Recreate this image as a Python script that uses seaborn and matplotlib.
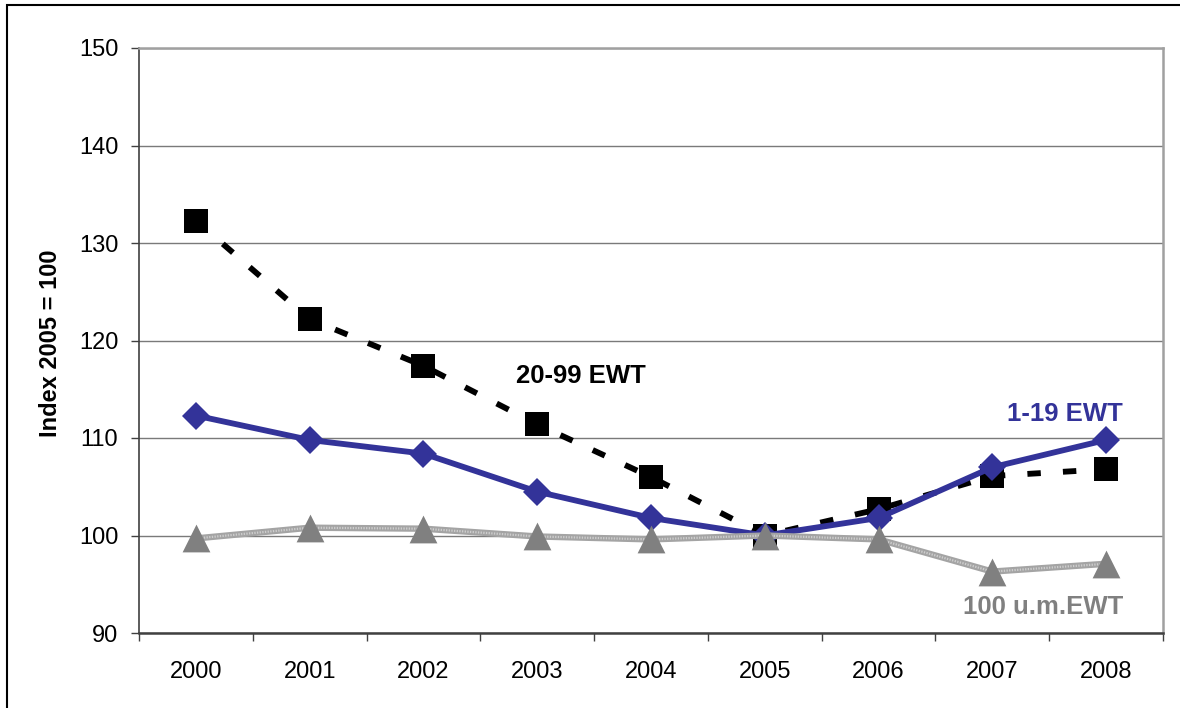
import matplotlib
matplotlib.use("Agg")
import matplotlib.pyplot as plt
from matplotlib.patches import Rectangle
import seaborn as sns
import pandas as pd

# Index values (2005 = 100) by establishment size class
years = ["2000", "2001", "2002", "2003", "2004", "2005", "2006", "2007", "2008"]
small_1_19 = [112.3, 109.8, 108.4, 104.5, 101.8, 100.0, 101.8, 107.0, 109.8]
medium_20_99 = [132.3, 122.2, 117.4, 111.4, 106.0, 100.0, 102.7, 106.1, 106.8]
large_100 = [99.7, 100.8, 100.7, 99.9, 99.6, 100.0, 99.6, 96.3, 97.1]

y_ticks = [90, 100, 110, 120, 130, 140, 150]

sns.set_theme(style="white")
plt.rcParams["font.family"] = ["Liberation Sans", "DejaVu Sans"]

fig = plt.figure(figsize=(11.8, 7.08), dpi=100)
ax = fig.add_axes([139 / 1180, 1 - 633 / 708, 1024 / 1180, 585 / 708])

pos = list(range(len(years)))
df = pd.DataFrame({"pos": pos, "s": small_1_19, "m": medium_20_99, "l": large_100})

BLUE = "#333399"
GRAY_LINE = "#a4a4a4"
GRAY_MARK = "#808080"

# 20-99 employees: black dashed line with squares
sns.lineplot(data=df, x="pos", y="m", ax=ax, color="black", lw=4.2,
             linestyle=(0, (2.3, 3.8)), dash_capstyle="butt",
             marker="s", markersize=17.5, markeredgewidth=0,
             markerfacecolor="black", zorder=3)
# 1-19 employees: solid blue line with diamonds
sns.lineplot(data=df, x="pos", y="s", ax=ax, color=BLUE, lw=4.2,
             marker="D", markersize=14, markeredgewidth=0,
             markerfacecolor=BLUE, zorder=4)
# 100+ employees: textured grey line with triangles
sns.lineplot(data=df, x="pos", y="l", ax=ax, color=GRAY_LINE, lw=4.6,
             zorder=5)
ax.plot(pos, large_100, color="#cdcdcd", lw=1.6, linestyle=(0, (0.6, 0.6)),
        zorder=5.1)
sns.scatterplot(data=df, x="pos", y="l", ax=ax, color=GRAY_MARK, marker="^",
                s=20 ** 2, linewidth=0, zorder=6)

# axes limits and ticks
ax.set_xlim(-0.5, len(years) - 0.5)
ax.set_ylim(y_ticks[0], y_ticks[-1])
ax.set_yticks(y_ticks)
ax.set_xticks([p - 0.5 for p in pos] + [len(years) - 0.5])
ax.set_xticklabels([])
ax.set_xticks(pos, minor=True)
ax.set_xticklabels(years, minor=True)

ax.tick_params(axis="y", which="major", direction="out", length=6, width=1,
               color="#404040", labelsize=17, pad=9, left=True)
ax.tick_params(axis="x", which="major", direction="out", length=6, width=1,
               color="#404040", bottom=True)
ax.tick_params(axis="x", which="minor", length=0, labelsize=17, pad=20,
               bottom=True)
for lab in ax.get_xticklabels(minor=True) + ax.get_yticklabels():
    lab.set_color("black")

ax.grid(axis="y", color="#7a7a7a", lw=1.0)
ax.grid(axis="x", visible=False)
ax.set_axisbelow(True)

for side in ["top", "right"]:
    ax.spines[side].set_color("#a0a0a0")
    ax.spines[side].set_linewidth(1.8)
ax.spines["left"].set_color("#404040")
ax.spines["left"].set_linewidth(1.2)
ax.spines["bottom"].set_color("#404040")
ax.spines["bottom"].set_linewidth(1.8)

ax.set_xlabel("")
ax.set_ylabel("Index 2005 = 100", fontsize=17, fontweight="bold", color="black")
ax.yaxis.set_label_coords(-0.075, 0.495)

# series labels
ax.text(3.385, 116.4, "20-99 EWT", fontsize=18.5, fontweight="bold",
        color="black", ha="center", va="center")
ax.text(8.15, 112.5, "1-19 EWT", fontsize=18.5, fontweight="bold",
        color=BLUE, ha="right", va="center")
ax.text(8.15, 92.7, "100 u.m.EWT", fontsize=18.5, fontweight="bold",
        color=GRAY_MARK, ha="right", va="center")

# outer chart frame
fig.patches.append(Rectangle((7 / 1180, -0.05), 1.2, 1 - 5 / 708 + 0.05,
                             transform=fig.transFigure, fill=False,
                             edgecolor="black", lw=1.5, zorder=0))

fig.savefig("out.png", dpi=100, facecolor="white")
